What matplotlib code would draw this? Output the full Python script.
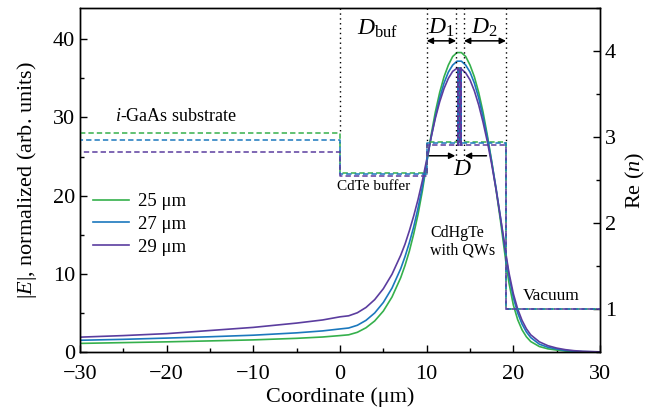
import matplotlib
matplotlib.use('Agg')
import matplotlib.pyplot as plt
from matplotlib.ticker import MultipleLocator

plt.rcParams['font.family'] = ['Liberation Serif', 'DejaVu Serif']
plt.rcParams['mathtext.fontset'] = 'custom'
plt.rcParams['mathtext.rm'] = 'Liberation Serif'
plt.rcParams['mathtext.it'] = 'Liberation Serif:italic'
plt.rcParams['axes.unicode_minus'] = True

# coordinate grid (um)
x = [-30, -25, -20, -15, -10, -5, -2, 0, 1, 2, 3, 4, 5, 6, 7, 7.5, 8, 8.5, 9, 9.5, 10,
     10.5, 11, 11.5, 12, 12.5, 13, 13.5, 14, 14.5, 15, 15.5, 16, 16.5, 17, 17.5, 18, 18.5, 19,
     19.15, 19.5, 20, 20.5, 21, 21.5, 22, 23, 24, 25, 26, 27, 28, 30]

# |E| for the three wavelengths
E_25 = [1.1, 1.2, 1.3, 1.42, 1.55, 1.75, 1.92, 2.1, 2.2, 2.52, 3.1, 3.97, 5.24, 7.04, 9.5,
        11.07, 12.9, 15.1, 17.6, 20.6, 24.1,
        27.7, 30.7, 33.2, 35.2, 36.7, 37.8, 38.3, 38.3, 37.8, 36.7, 35.2, 33.2, 30.7, 27.7, 24.4, 20.8, 16.9, 12.7,
        11.4, 8.8, 6.0, 4.13, 2.84, 1.95, 1.34, 0.7, 0.4, 0.25, 0.12, 0.06, 0.03, 0.005]
E_27 = [1.5, 1.62, 1.78, 1.95, 2.15, 2.45, 2.7, 2.95, 3.07, 3.42, 4.05, 4.99, 6.34, 8.18, 10.65,
        12.2, 13.98, 16.0, 18.4, 21.1, 24.3,
        27.4, 30.1, 32.5, 34.4, 35.8, 36.7, 37.2, 37.2, 36.7, 35.8, 34.4, 32.5, 30.1, 27.4, 24.3, 21.0, 17.3, 13.4,
        12.2, 9.7, 6.95, 4.99, 3.58, 2.57, 1.85, 1.0, 0.6, 0.38, 0.2, 0.1, 0.05, 0.01]
E_29 = [1.9, 2.1, 2.35, 2.75, 3.15, 3.7, 4.1, 4.5, 4.63, 5.02, 5.70, 6.70, 8.10, 9.95, 12.37,
        13.8, 15.5, 17.4, 19.5, 21.9, 24.6,
        27.4, 29.9, 32.0, 33.7, 35.0, 35.9, 36.3, 36.2, 35.7, 34.8, 33.4, 31.6, 29.4, 26.9, 24.0, 20.8, 17.3, 13.7,
        12.5, 10.1, 7.45, 5.49, 4.05, 2.98, 2.2, 1.3, 0.8, 0.5, 0.3, 0.17, 0.09, 0.02]

labels = ['25 \u03bcm', '27 \u03bcm', '29 \u03bcm']
colors = ['#35b04c', '#1b78bd', '#5b3d9f']

# refractive index of the layers
n_sub = [3.05, 2.97, 2.82]
n_buf = [2.58, 2.57, 2.55]
n_cdhgte = [2.94, 2.93, 2.91]
n_qw = 3.80
n_vac = 1.0
x_buf, x_cdhgte, x_vac = 0, 10, 19.15
qw_x = [13.62, 13.8, 13.98]
qw_w = 0.03

# layer boundaries (dotted) and D1/D2 limits
dot_x = [0, 10, 13.4, 14.3, 19.15]
dot_bottom = [3.05, 2.94, 2.73, 2.73, 2.94]

fig = plt.figure(figsize=(6.65, 4.15), dpi=100)
ax = fig.add_axes([0.1203, 0.1518, 0.7820, 0.8289])
ax2 = ax.twinx()

for E, c, lab in zip([E_25, E_27, E_29], colors, labels):
    ax.plot(x, E, color=c, lw=1.2, label=lab)

for i in range(3):
    px = [-30, x_buf, x_buf, x_cdhgte, x_cdhgte]
    pn = [n_sub[i], n_sub[i], n_buf[i], n_buf[i], n_cdhgte[i]]
    for q in qw_x:
        px += [q, q, q + qw_w, q + qw_w]
        pn += [n_cdhgte[i], n_qw, n_qw, n_cdhgte[i]]
    px += [x_vac, x_vac, 30]
    pn += [n_cdhgte[i], n_vac, n_vac]
    ax2.plot(px, pn, color=colors[i], lw=1.1, ls=(i * 1.5, (3.5, 2)))

for xd, nb in zip(dot_x, dot_bottom):
    ax2.plot([xd, xd], [4.5, nb], color='k', lw=1.0, ls=(0, (1, 2.5)))

ax.set_xlim(-30, 30)
ax.set_ylim(0, 44)
ax2.set_ylim(0.5, 4.5)

ax.xaxis.set_major_locator(MultipleLocator(10))
ax.xaxis.set_minor_locator(MultipleLocator(5))
ax.yaxis.set_major_locator(MultipleLocator(10))
ax.yaxis.set_minor_locator(MultipleLocator(5))
ax2.yaxis.set_major_locator(MultipleLocator(1))
ax2.yaxis.set_minor_locator(MultipleLocator(0.5))

ax.tick_params(which='both', direction='in', top=False, right=False, labelsize=16, width=1)
ax.tick_params(which='major', length=5)
ax.tick_params(which='minor', length=3)
ax.tick_params(axis='x', pad=9)
ax2.tick_params(which='both', direction='in', labelsize=16, width=1)
ax2.tick_params(which='major', length=5)
ax2.tick_params(which='minor', length=3)
for a in (ax, ax2):
    for s in a.spines.values():
        s.set_linewidth(1.0)

ax.set_xlabel('Coordinate (\u03bcm)', fontsize=16, labelpad=3)
ax.set_ylabel('|$E$|, normalized (arb. units)', fontsize=16, labelpad=10)
ax2.set_ylabel('Re ($n$)', fontsize=16, labelpad=6)

# arrows
arr2 = dict(arrowstyle='<|-|>', color='k', lw=1.1, mutation_scale=9, shrinkA=0, shrinkB=0)
arr1 = dict(arrowstyle='-|>', color='k', lw=1.1, mutation_scale=9, shrinkA=0, shrinkB=0)
ax.annotate('', xy=(13.4, 39.8), xytext=(10, 39.8), arrowprops=arr2)
ax.annotate('', xy=(19.15, 39.8), xytext=(14.3, 39.8), arrowprops=arr2)
ax.annotate('', xy=(13.3, 25.1), xytext=(10.3, 25.1), arrowprops=arr1)
ax.annotate('', xy=(14.4, 25.1), xytext=(16.9, 25.1), arrowprops=arr1)

ax.text(4.4, 41.3, r'$D_{\rm buf}$', fontsize=17, ha='center', va='center')
ax.text(11.7, 41.4, r'$D_1$', fontsize=17, ha='center', va='center')
ax.text(16.7, 41.4, r'$D_2$', fontsize=17, ha='center', va='center')
ax.text(14.1, 23.3, r'$D$', fontsize=17, ha='center', va='center')

ax.text(-26.0, 30.1, r'$i$-GaAs substrate', fontsize=13, ha='left', va='center')
ax.text(-0.4, 21.2, 'CdTe buffer', fontsize=11, ha='left', va='center')
ax.text(10.4, 14.1, 'CdHgTe\nwith QWs', fontsize=11.5, ha='left', va='center', linespacing=1.1)
ax.text(21.1, 7.1, 'Vacuum', fontsize=12.5, ha='left', va='center')

ax.legend(loc='upper left', bbox_to_anchor=(0.0, 0.5), frameon=False, fontsize=13.5,
          handlelength=1.9, labelspacing=0.3, handletextpad=0.5, borderaxespad=0.3)

fig.savefig('out.png', dpi=100)
